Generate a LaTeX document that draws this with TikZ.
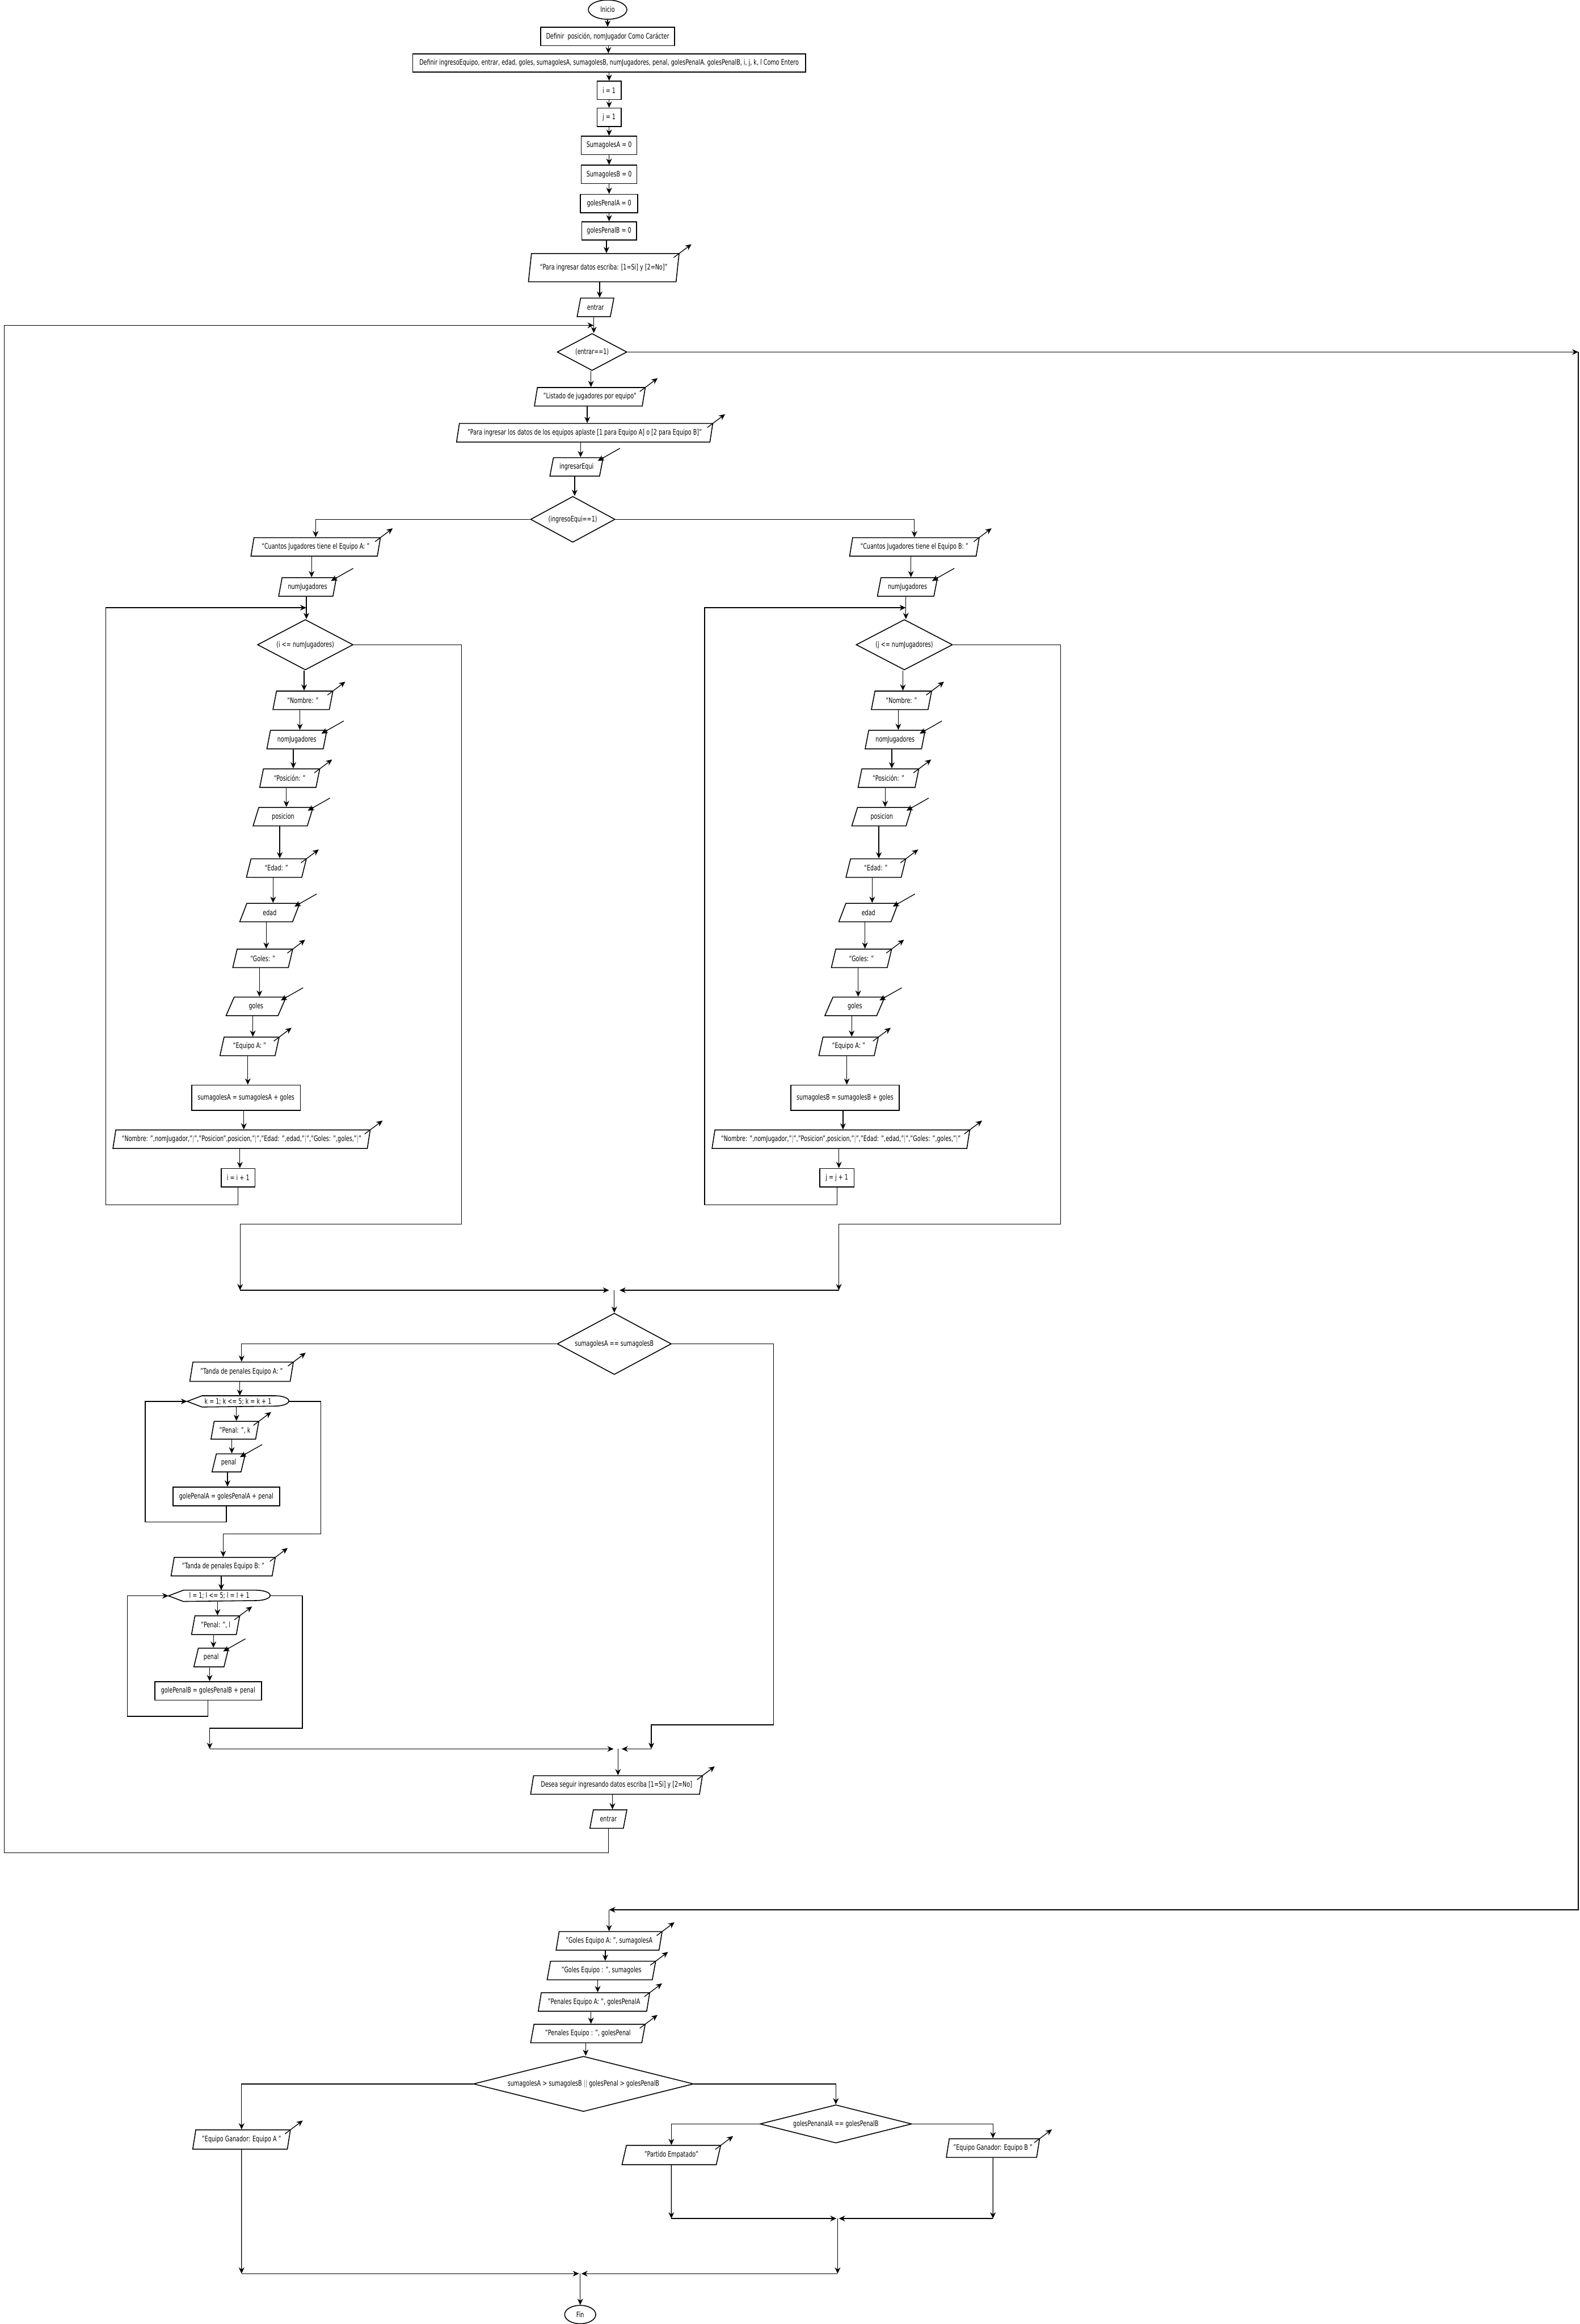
\documentclass[tikz,border=0pt]{standalone}
\usepackage{fontspec}
\setmainfont{DejaVu Sans}[FakeStretch=0.72]
\usetikzlibrary{shapes.geometric,arrows.meta,calc}

\newcommand{\gpipe}{\textcolor{gray}{|}}

\tikzset{
  base/.style={draw, line width=0.6pt, inner sep=0pt, align=center, font=\fontsize{5.1}{5.9}\selectfont},
  proc/.style={base, rectangle, minimum height=12.4pt},
  io/.style={base, trapezium, trapezium left angle=70, trapezium right angle=110, trapezium stretches=true, minimum height=12.5pt},
  cond/.style={base, diamond},
  term/.style={base, ellipse},
  loopbox/.style={base, draw=none, minimum height=7pt},
  conn/.style={line width=0.5pt},
  arr/.style={conn, -{Stealth[length=4.2pt,width=3.8pt]}},
}

% straight-down connector between two stacked shapes
\newcommand{\flow}[2]{\coordinate (fm) at ($(#1.south)!.5!(#2.north)$); \draw[arr] (fm |- #1.south) -- (fm |- #2.north);}
% small arrows beside the parallelograms
\newcommand{\outarr}[1]{\draw[arr] ([shift={(-4,3)}]#1.top right corner) -- ++(12,-9);}
\newcommand{\inarr}[1]{\draw[arr] ([shift={(11,-6)}]#1.top right corner) -- ([shift={(-4,2.5)}]#1.top right corner);}
% for-loop header: pointed left end, rounded right end
\newcommand{\hdrshape}[1]{\draw[line width=0.6pt] (#1.west) -- ([xshift=10pt]#1.north west) -- ([xshift=-9.5pt]#1.north east) arc[start angle=90, end angle=-90, x radius=9.5pt, y radius=3.5pt] -- ([xshift=10pt]#1.south west) -- cycle;}

\begin{document}
\begin{tikzpicture}[x=1pt,y=-1pt]
  \useasboundingbox (0,0) rectangle (1066,1568);

  % Inicio y definiciones
  \node[term, minimum width=26pt, minimum height=13pt] (inicio) at (410,6.5) {Inicio};
  \node[proc, minimum width=90.4pt] (defChar) at (410,24.6) {Definir\ \ posición, nomJugador Como Carácter};
  \node[proc, minimum width=265pt] (defInt) at (411,42.5) {Definir ingresoEquipo, entrar, edad, goles, sumagolesA, sumagolesB, numJugadores, penal, golesPenalA. golesPenalB, i, j, k, l Como Entero};
  \node[proc, minimum width=16.3pt] (iIni) at (411,61) {i = 1};
  \node[proc, minimum width=16.3pt] (jIni) at (411,79.2) {j = 1};
  \node[proc, minimum width=37.5pt] (sumA0) at (411,98.1) {SumagolesA = 0};
  \node[proc, minimum width=37.5pt] (sumB0) at (411,117.7) {SumagolesB = 0};
  \node[proc, minimum width=38.6pt] (penA0) at (411,137.3) {golesPenalA = 0};
  \node[proc, minimum width=37pt] (penB0) at (411,155.8) {golesPenalB = 0};
  \node[io, minimum width=102.3pt, minimum height=19pt] (msgEntrar) at (407.4,180.6) {“Para ingresar datos escriba: [1=Si] y [2=No]”};
  \node[io, minimum width=24.8pt] (readEntrar) at (401.8,207.4) {entrar};
  \coordinate (jEntrar) at (400.6,219.5);
  \node[cond, shape aspect=1.9, minimum width=47pt, minimum height=25pt] (dEntrar) at (399.5,237.5) {(entrar==1)};

  \foreach \a/\b in {inicio/defChar, defChar/defInt, defInt/iIni, iIni/jIni, jIni/sumA0, sumA0/sumB0, sumB0/penA0, penA0/penB0, penB0/msgEntrar, msgEntrar/readEntrar, readEntrar/dEntrar}
    {\flow{\a}{\b}}

  % Ingreso de equipos
  \node[io, minimum width=75pt] (listado) at (398,267.7) {"Listado de jugadores por equipo"};
  \node[io, minimum width=173pt] (msgDatos) at (394.5,292) {"Para ingresar los datos de los equipos aplaste [1 para Equipo A] o [2 para Equipo B]"};
  \node[io, minimum width=36pt] (readEqui) at (389,315) {ingresarEqui};
  \node[cond, shape aspect=1.84, minimum width=57pt, minimum height=31pt] (dEqui) at (386.5,350.4) {(ingresoEqui==1)};
  \foreach \a/\b in {dEntrar/listado, listado/msgDatos, msgDatos/readEqui, readEqui/dEqui}
    {\flow{\a}{\b}}

  % Equipo A
  \node[io, minimum width=88pt] (cantA) at (213,369) {“Cuantos Jugadores tiene el Equipo A: ”};
  \node[io, minimum width=39pt] (numA) at (207.5,396) {numJugadores};
  \coordinate (jLoopA) at (206.7,410);
  \node[cond, shape aspect=1.9, minimum width=64.5pt, minimum height=34pt] (dLoopA) at (206,435) {(i <= numJugadores)};
  \node[io, minimum width=40.5pt] (nomA) at (204.4,472.5) {“Nombre: ”};
  \node[io, minimum width=40.5pt] (readNomA) at (200.3,499) {nomJugadores};
  \node[io, minimum width=40.5pt] (posA) at (195.5,525) {“Posición: ”};
  \node[io, minimum width=40.5pt] (readPosA) at (191,551) {posicion};
  \node[io, minimum width=40.5pt] (edadA) at (186.5,585.7) {“Edad: ”};
  \node[io, minimum width=40.5pt] (readEdadA) at (182,615.7) {edad};
  \node[io, minimum width=40.5pt] (golesA) at (177.3,646.6) {“Goles: ”};
  \node[io, minimum width=40.5pt] (readGolesA) at (172.8,679) {goles};
  \node[io, minimum width=40pt] (eqA) at (168.4,706) {“Equipo A: ”};
  \node[proc, minimum width=73.4pt, minimum height=17pt] (sumA) at (166,740.6) {sumagolesA = sumagolesA + goles};
  \node[io, minimum width=173.7pt] (outA) at (163,768.6) {“Nombre: ”,nomJugador,”\gpipe”,”Posicion”,posicion,”\gpipe”,”Edad: ”,edad,”\gpipe”,”Goles: ”,goles,”\gpipe”};
  \node[proc, minimum width=22.6pt] (incI) at (160.7,794.6) {i = i + 1};
  \draw[arr] (dEqui.west) -| (cantA.north);
  \foreach \a/\b in {cantA/numA, numA/dLoopA, dLoopA/nomA, nomA/readNomA, readNomA/posA, posA/readPosA, readPosA/edadA, edadA/readEdadA, readEdadA/golesA, golesA/readGolesA, readGolesA/eqA, eqA/sumA, sumA/outA, outA/incI}
    {\flow{\a}{\b}}
  \coordinate (railA) at (71.5,813);
  \draw[arr] (incI.south) |- (railA) |- (jLoopA);
  \coordinate (exitA) at (311.5,826);
  \coordinate (dropA) at (162,870.5);
  \draw[arr] (dLoopA.east) -| (exitA) -| (dropA);

  % Equipo B
  \node[io, minimum width=88pt] (cantB) at (617,369) {“Cuantos Jugadores tiene el Equipo B: ”};
  \node[io, minimum width=40.6pt] (numB) at (612.3,396) {numJugadores};
  \coordinate (jLoopB) at (611.2,410);
  \node[cond, shape aspect=1.9, minimum width=65pt, minimum height=34pt] (dLoopB) at (610.2,435) {(j <= numJugadores)};
  \node[io, minimum width=40.7pt] (nomB) at (608.3,472.5) {“Nombre: ”};
  \node[io, minimum width=40.5pt] (readNomB) at (604,499) {nomJugadores};
  \node[io, minimum width=41pt] (posB) at (599.5,525) {“Posición: ”};
  \node[io, minimum width=40.5pt] (readPosB) at (595,551) {posicion};
  \node[io, minimum width=40.4pt] (edadB) at (591,585.7) {“Edad: ”};
  \node[io, minimum width=40pt] (readEdadB) at (586,615.7) {edad};
  \node[io, minimum width=40.7pt] (golesB) at (581.3,646.6) {“Goles: ”};
  \node[io, minimum width=40.4pt] (readGolesB) at (576.8,679) {goles};
  \node[io, minimum width=40.2pt] (eqB) at (572.6,706) {“Equipo A: ”};
  \node[proc, minimum width=73.2pt, minimum height=17pt] (sumB) at (570.2,740.6) {sumagolesB = sumagolesB + goles};
  \node[io, minimum width=174pt] (outB) at (567.4,768.6) {“Nombre: ”,nomJugador,”\gpipe”,”Posicion”,posicion,”\gpipe”,”Edad: ”,edad,”\gpipe”,”Goles: ”,goles,”\gpipe”};
  \node[proc, minimum width=23.3pt] (incJ) at (564.7,794.6) {j = j + 1};
  \draw[arr] (dEqui.east) -| (cantB.north);
  \foreach \a/\b in {cantB/numB, numB/dLoopB, dLoopB/nomB, nomB/readNomB, readNomB/posB, posB/readPosB, readPosB/edadB, edadB/readEdadB, readEdadB/golesB, golesB/readGolesB, readGolesB/eqB, eqB/sumB, sumB/outB, outB/incJ}
    {\flow{\a}{\b}}
  \coordinate (railB) at (475.5,813);
  \draw[arr] (incJ.south) |- (railB) |- (jLoopB);
  \coordinate (exitB) at (715.7,826);
  \coordinate (dropB) at (566,870.5);
  \draw[arr] (dLoopB.east) -| (exitB) -| (dropB);

  % union y comparacion de goles
  \coordinate (merge) at (414.5,870.5);
  \draw[arr] (dropA) -- ([xshift=-3.5pt]merge);
  \draw[arr] (dropB) -- ([xshift=3.5pt]merge);
  \node[cond, shape aspect=1.86, minimum width=77pt, minimum height=41.4pt] (dEmpate) at (414.5,906.7) {sumagolesA == sumagolesB};
  \draw[arr] (merge) -- (dEmpate.north);

  % Tanda de penales A
  \node[io, minimum width=70.2pt, minimum height=13pt] (tandaA) at (163,925.5) {"Tanda de penales Equipo A: "};
  \node[loopbox, minimum width=68pt] (hdrK) at (160.6,945.5) {k = 1; k <= 5; k = k + 1};
  \hdrshape{hdrK}
  \node[io, minimum width=32.3pt, minimum height=12pt] (penK) at (158.5,965) {"Penal: ", k};
  \node[io, minimum width=22.5pt, minimum height=12.2pt] (readPenK) at (154.3,987) {penal};
  \node[proc, minimum width=72pt, minimum height=12.6pt] (sumPenA) at (152.7,1009.6) {golePenalA = golesPenalA + penal};
  \draw[arr] (dEmpate.west) -| (tandaA.north);
  \foreach \a/\b in {tandaA/hdrK, hdrK/penK, penK/readPenK, readPenK/sumPenA}
    {\flow{\a}{\b}}
  \coordinate (railK) at (98,1027);
  \draw[arr] (sumPenA.south) |- (railK) |- (hdrK.west);
  \coordinate (exitK) at (216.5,1035);

  % Tanda de penales B
  \node[io, minimum width=70.6pt] (tandaB) at (150.6,1057) {"Tanda de penales Equipo B: "};
  \node[loopbox, minimum width=68pt] (hdrL) at (148,1076.7) {l = 1; l <= 5; l = l + 1};
  \hdrshape{hdrL}
  \node[io, minimum width=32.5pt, minimum height=12.6pt] (penL) at (145.5,1096.5) {"Penal: ", l};
  \node[io, minimum width=23.4pt, minimum height=12.6pt] (readPenL) at (142.5,1118.3) {penal};
  \node[proc, minimum width=72pt, minimum height=12.5pt] (sumPenB) at (140.4,1140.8) {golePenalB = golesPenalB + penal};
  \draw[arr] (hdrK.east) -| (exitK) -| (tandaB.north);
  \foreach \a/\b in {tandaB/hdrL, hdrL/penL, penL/readPenL, readPenL/sumPenB}
    {\flow{\a}{\b}}
  \coordinate (railL) at (86,1158);
  \draw[arr] (sumPenB.south) |- (railL) |- (hdrL.west);
  \coordinate (exitL) at (204,1166);
  \coordinate (dropL) at (141.5,1180);
  \draw[arr] (hdrL.east) -| (exitL) -| (dropL);
  \coordinate (exitE) at (522,1163.7);
  \coordinate (dropE) at (439.5,1180);
  \draw[arr] (dEmpate.east) -| (exitE) -| (dropE);

  % seguir ingresando
  \coordinate (merge2) at (417,1180);
  \draw[arr] (dropL) -- ([xshift=-3pt]merge2);
  \draw[arr] (dropE) -- ([xshift=2.5pt]merge2);
  \node[io, minimum width=116pt] (seguir) at (416,1204.3) {Desea seguir ingresando datos escriba [1=Si] y [2=No]};
  \node[io, minimum width=25pt] (readEntrar2) at (410.5,1227.3) {entrar};
  \draw[arr] (merge2) -- (merge2 |- seguir.north);
  \flow{seguir}{readEntrar2}
  \coordinate (railS) at (3,1250);
  \draw[arr] (readEntrar2.south) |- (railS) |- (jEntrar);

  % salida del ciclo principal
  \coordinate (farR) at (1065,237.5);
  \coordinate (farRb) at (1065,1288.5);
  \coordinate (jFinal) at (411,1288.5);
  \draw[arr] (dEntrar.east) -- (farR);
  \draw[arr] (farR) -- (farRb) -- (jFinal);

  % resultados
  \node[io, minimum width=72pt] (golesEqA) at (411,1309.5) {"Goles Equipo A: ", sumagolesA};
  \node[io, minimum width=73.6pt] (golesEq) at (405.8,1329.5) {"Goles Equipo : ", sumagoles};
  \node[io, minimum width=75.7pt] (penEqA) at (400.8,1350.7) {"Penales Equipo A: ", golesPenalA};
  \node[io, minimum width=77.4pt] (penEq) at (396.7,1372) {"Penales Equipo : ", golesPenal};
  \node[cond, shape aspect=4, minimum width=148.6pt, minimum height=37.3pt] (dGanador) at (393.7,1406) {sumagolesA > sumagolesB \textcolor{gray}{||} golesPenal > golesPenalB};
  \node[cond, shape aspect=4, minimum width=102.4pt, minimum height=25.8pt] (dPenal) at (564,1433) {golesPenanalA == golesPenalB};
  \node[io, minimum width=66pt, minimum height=13pt] (ganA) at (163,1443.5) {"Equipo Ganador: Equipo A "};
  \node[io, minimum width=66.8pt, minimum height=13pt] (empate) at (453,1454) {"Partido Empatado"};
  \node[io, minimum width=63pt, minimum height=12.6pt] (ganB) at (670,1449.3) {"Equipo Ganador: Equipo B "};
  \node[term, minimum width=21pt, minimum height=12.4pt] (fin) at (391.5,1561.6) {Fin};
  \draw[arr] (jFinal) -- (jFinal |- golesEqA.north);
  \foreach \a/\b in {golesEqA/golesEq, golesEq/penEqA, penEqA/penEq, penEq/dGanador}
    {\flow{\a}{\b}}
  \draw[arr] (dGanador.east) -| (dPenal.north);
  \draw[arr] (dGanador.west) -| (ganA.north);
  \draw[arr] (dPenal.west) -| (empate.north);
  \draw[arr] (dPenal.east) -| (ganB.north);

  \coordinate (m3L) at (453,1496.8);
  \coordinate (m3R) at (670,1496.8);
  \coordinate (m3) at (565.2,1496.8);
  \draw[arr] (empate.south) -- (m3L);
  \draw[arr] (m3L) -- ([xshift=-0.8pt]m3);
  \draw[arr] (ganB.south) -- (m3R);
  \draw[arr] (m3R) -- ([xshift=0.8pt]m3);
  \coordinate (m4L) at (163,1534);
  \coordinate (m4R) at (565.2,1534);
  \coordinate (m4) at (391.5,1534);
  \draw[arr] (m3) -- (m4R);
  \draw[arr] (m4R) -- ([xshift=0.8pt]m4);
  \draw[arr] (ganA.south) -- (m4L);
  \draw[arr] (m4L) -- ([xshift=-0.8pt]m4);
  \draw[arr] (m4) -- (fin.north);

  % flechas de salida y de lectura
  \foreach \n in {msgEntrar, listado, msgDatos, cantA, nomA, posA, edadA, golesA, eqA, outA, cantB, nomB, posB, edadB, golesB, eqB, outB, tandaA, penK, tandaB, penL, seguir, golesEqA, golesEq, penEqA, penEq, ganA, empate, ganB}
    {\outarr{\n}}
  \foreach \n in {readEqui, numA, readNomA, readPosA, readEdadA, readGolesA, numB, readNomB, readPosB, readEdadB, readGolesB, readPenK, readPenL}
    {\inarr{\n}}
\end{tikzpicture}
\end{document}
